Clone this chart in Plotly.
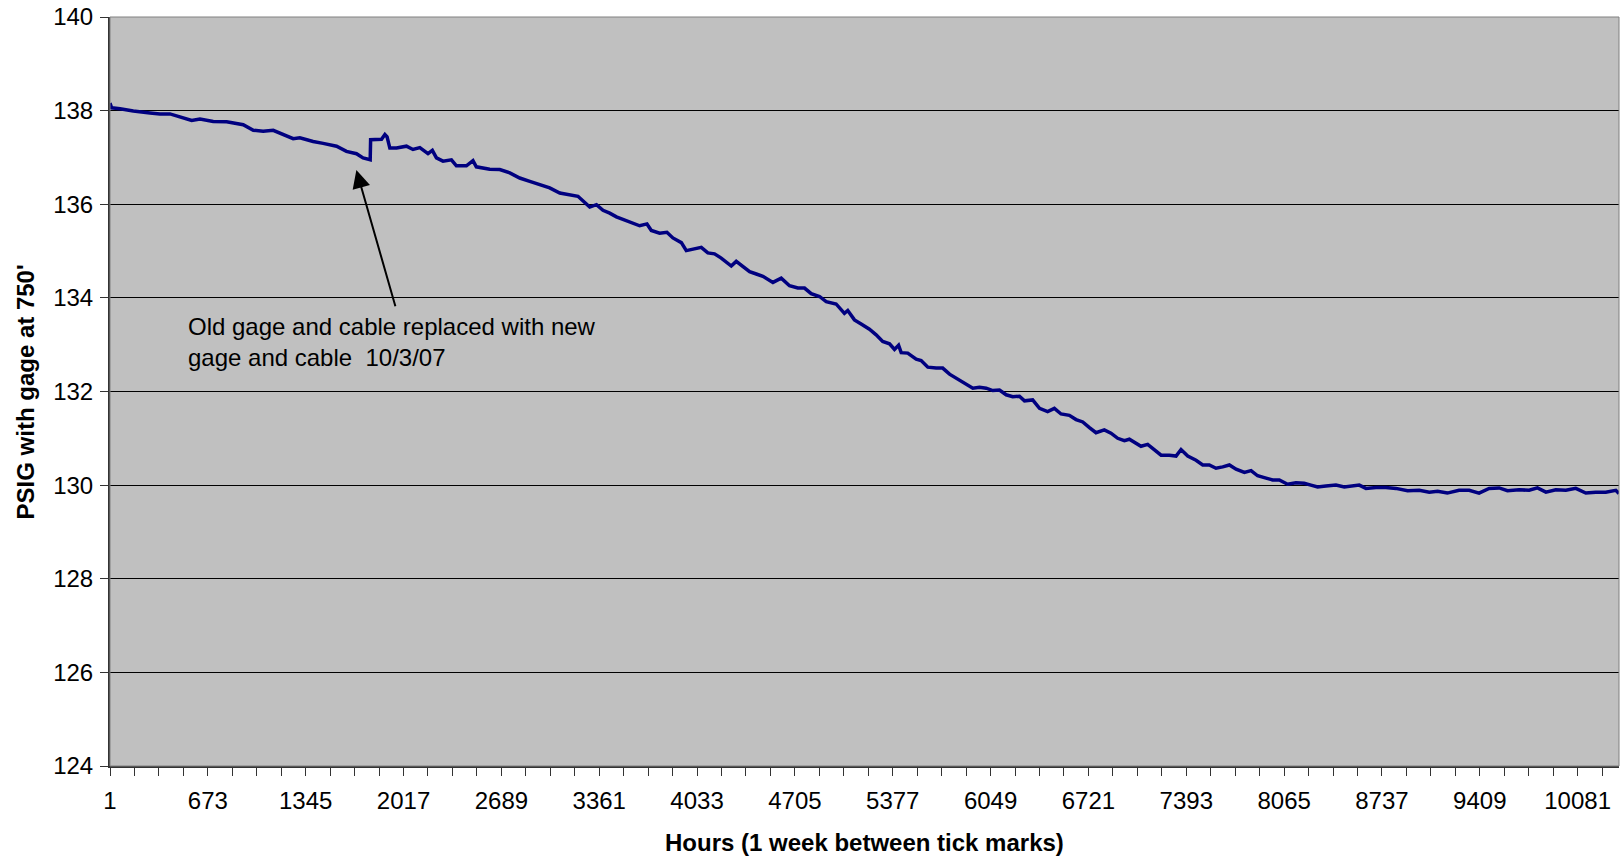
import plotly.graph_objects as go

# ---- Data ----
hours = [1, 12, 70, 161, 276, 344, 413, 504, 562, 619, 710, 802, 916, 985, 1053, 1122, 1190, 1259,
         1305, 1396, 1465, 1557, 1625, 1694, 1739, 1788, 1791, 1832, 1866, 1889, 1904, 1923, 1969,
         2037, 2082, 2129, 2185, 2215, 2243, 2288, 2346, 2380, 2449, 2494, 2517, 2609, 2678, 2747,
         2815, 2884, 2953, 3021, 3090, 3159, 3215, 3296, 3342, 3387, 3433, 3479, 3524, 3592, 3639,
         3689, 3719, 3776, 3826, 3867, 3925, 3959, 4004, 4062, 4107, 4153, 4199, 4268, 4302, 4348,
         4394, 4440, 4485, 4554, 4611, 4668, 4725, 4771, 4817, 4874, 4920, 4988, 5045, 5068, 5114,
         5160, 5217, 5263, 5308, 5355, 5389, 5417, 5435, 5480, 5538, 5572, 5618, 5675, 5720, 5767,
         5823, 5869, 5927, 5973, 6019, 6064, 6110, 6156, 6201, 6247, 6282, 6338, 6385, 6441, 6487,
         6533, 6590, 6636, 6682, 6728, 6773, 6830, 6876, 6922, 6968, 7002, 7048, 7082, 7128, 7174,
         7220, 7277, 7323, 7357, 7403, 7460, 7506, 7551, 7597, 7643, 7689, 7735, 7792, 7838, 7883,
         7941, 7986, 8032, 8089, 8146, 8203, 8249, 8295, 8352, 8421, 8478, 8535, 8581, 8627, 8696,
         8764, 8833, 8913, 8993, 9062, 9119, 9186, 9267, 9336, 9404, 9473, 9542, 9599, 9679, 9748,
         9805, 9863, 9931, 10000, 10068, 10137, 10205, 10274, 10343, 10365]

psig = [138.16, 138.06, 138.04, 137.99, 137.95, 137.93, 137.93, 137.84, 137.79, 137.82, 137.77,
        137.76, 137.70, 137.58, 137.56, 137.58, 137.49, 137.40, 137.42, 137.34, 137.30, 137.24,
        137.13, 137.08, 136.99, 136.95, 137.38, 137.38, 137.39, 137.49, 137.44, 137.20, 137.20,
        137.24, 137.17, 137.21, 137.08, 137.15, 136.99, 136.92, 136.95, 136.82, 136.82, 136.93,
        136.80, 136.75, 136.74, 136.67, 136.56, 136.49, 136.42, 136.35, 136.24, 136.20, 136.17,
        135.94, 135.99, 135.87, 135.81, 135.73, 135.68, 135.61, 135.54, 135.58, 135.44, 135.38,
        135.40, 135.28, 135.18, 135.01, 135.04, 135.08, 134.96, 134.94, 134.85, 134.68, 134.78,
        134.66, 134.56, 134.51, 134.46, 134.33, 134.42, 134.26, 134.21, 134.21, 134.09, 134.03,
        133.92, 133.87, 133.67, 133.73, 133.53, 133.44, 133.33, 133.21, 133.07, 133.02, 132.90,
        132.99, 132.83, 132.82, 132.69, 132.66, 132.52, 132.50, 132.50, 132.37, 132.26, 132.19,
        132.07, 132.09, 132.07, 132.02, 132.03, 131.93, 131.89, 131.90, 131.80, 131.82, 131.64,
        131.57, 131.64, 131.52, 131.49, 131.40, 131.35, 131.23, 131.12, 131.18, 131.11, 131.00,
        130.95, 130.98, 130.89, 130.83, 130.87, 130.75, 130.64, 130.64, 130.62, 130.76, 130.62,
        130.53, 130.43, 130.43, 130.36, 130.39, 130.43, 130.34, 130.27, 130.31, 130.20, 130.15,
        130.11, 130.11, 130.02, 130.05, 130.04, 130.00, 129.96, 129.98, 130.00, 129.96, 129.98,
        130.00, 129.93, 129.95, 129.95, 129.93, 129.88, 129.89, 129.85, 129.87, 129.83, 129.89,
        129.89, 129.83, 129.93, 129.94, 129.88, 129.90, 129.89, 129.94, 129.85, 129.90, 129.89,
        129.93, 129.83, 129.85, 129.85, 129.89, 129.82]

x_tick_labels = ["1", "673", "1345", "2017", "2689", "3361", "4033", "4705", "5377",
                 "6049", "6721", "7393", "8065", "8737", "9409", "10081"]
y_ticks = [124, 126, 128, 130, 132, 134, 136, 138, 140]

x_title = "Hours (1 week between tick marks)"
y_title = "PSIG with gage at 750'"
note = "Old gage and cable replaced with new<br>gage and cable  10/3/07"

# ---- Figure ----
FONT = "Liberation Sans, Arial, sans-serif"
week = 168
x_end = hours[-1]
tick_vals = list(range(1, x_end + 1, week))
label_map = {int(t): t for t in x_tick_labels}
tick_text = [label_map.get(v, "") for v in tick_vals]

fig = go.Figure()
fig.add_trace(go.Scatter(
    x=hours, y=psig, mode="lines",
    line=dict(color="#000080", width=3.5),
    hoverinfo="skip", showlegend=False,
))

fig.update_layout(
    width=1620, height=860,
    margin=dict(l=110, r=1, t=17, b=94),
    paper_bgcolor="white",
    plot_bgcolor="#C0C0C0",
    font=dict(family=FONT, size=24, color="black"),
    showlegend=False,
)

fig.update_xaxes(
    range=[1, x_end],
    tickmode="array", tickvals=tick_vals, ticktext=tick_text,
    ticks="outside", ticklen=8, tickcolor="#333", tickwidth=1,
    showgrid=False, zeroline=False,
    showline=True, linecolor="#333", linewidth=2,
    ticklabelstandoff=4,
    tickfont=dict(family=FONT, size=24, color="black"),
)
fig.update_yaxes(
    range=[124, 140],
    tickmode="array", tickvals=y_ticks, ticktext=[str(v) for v in y_ticks],
    ticks="outside", ticklen=8, tickcolor="#333", tickwidth=1,
    showgrid=True, gridcolor="black", gridwidth=1,
    zeroline=False,
    showline=True, linecolor="#333", linewidth=2,
    ticklabelstandoff=2,
    tickfont=dict(family=FONT, size=24, color="black"),
)

# plot-area border (gray)
fig.add_shape(type="rect", xref="paper", yref="paper", x0=0, y0=0, x1=1, y1=1,
              line=dict(color="#808080", width=1), layer="above")

# axis titles
fig.add_annotation(text=f"<b>{x_title}</b>", xref="paper", yref="paper",
                   x=0.5, y=-0.102, xanchor="center", yanchor="middle",
                   showarrow=False, font=dict(family=FONT, size=24, color="black"))
fig.add_annotation(text=f"<b>{y_title}</b>", xref="paper", yref="paper",
                   x=-0.0557, y=0.5, xanchor="center", yanchor="middle",
                   textangle=-90, showarrow=False,
                   font=dict(family=FONT, size=24, color="black"))

# note text
fig.add_annotation(text=note, xref="x", yref="y", x=523, y=133.06,
                   xanchor="left", yanchor="middle", align="left",
                   showarrow=False, font=dict(family=FONT, size=24, color="black"))
# arrow
fig.add_annotation(text="", xref="x", yref="y", x=1693, y=136.73,
                   axref="x", ayref="y", ax=1964, ay=133.79,
                   showarrow=True, arrowhead=2, arrowsize=1.8, arrowwidth=2,
                   arrowcolor="black", standoff=0, startstandoff=0)

fig.write_html(
    "out.html",
    config={"displayModeBar": False},
    post_script="document.body.style.margin='0';document.body.style.padding='0';"
                "document.body.style.overflow='hidden';",
)
